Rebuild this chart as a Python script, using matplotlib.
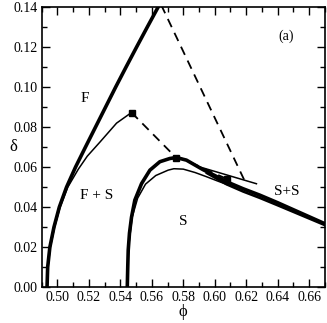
import matplotlib
matplotlib.use("Agg")
import matplotlib.pyplot as plt
from matplotlib.ticker import MultipleLocator, FormatStrFormatter

plt.rcParams['font.family'] = ['Liberation Serif', 'DejaVu Serif']
plt.rcParams['mathtext.fontset'] = 'stix'

# Thick fluid boundary (F)
f_thick_x = [0.4934, 0.4938, 0.4952, 0.4978, 0.5012, 0.5058, 0.5115, 0.5178,
             0.5242, 0.5306, 0.5370, 0.5436, 0.5503, 0.5571, 0.5640, 0.5660]
f_thick_y = [0.00, 0.01, 0.02, 0.03, 0.04, 0.05, 0.06, 0.07,
             0.08, 0.09, 0.10, 0.11, 0.12, 0.13, 0.14, 0.145]

# Thin curve ending at critical point square
f_thin_x = [0.4934, 0.4940, 0.4955, 0.4982, 0.5017, 0.5066, 0.5133, 0.5190, 0.5270, 0.5376, 0.5471]
f_thin_y = [0.000, 0.010, 0.020, 0.030, 0.040, 0.050, 0.0590, 0.0655, 0.0725, 0.0820, 0.0873]

# Thick solid boundary (S)
s_thick_x = [0.5444, 0.5447, 0.5450, 0.5458, 0.5471, 0.5492, 0.5535, 0.5588, 0.5651,
             0.5714, 0.5755, 0.5820, 0.5924, 0.6000, 0.6075, 0.6180, 0.6286, 0.6400,
             0.6497, 0.6600, 0.6700]
s_thick_y = [0.000, 0.010, 0.0185, 0.027, 0.035, 0.0435, 0.0518, 0.0585, 0.0627,
             0.0643, 0.0648, 0.0635, 0.0588, 0.0558, 0.0527, 0.0492, 0.0460, 0.0422,
             0.0388, 0.0352, 0.0317]

# Lower line of the double band
s_lower_x = [0.5950, 0.6075, 0.6180, 0.6286, 0.6400, 0.6497, 0.6600, 0.6700]
s_lower_y = [0.0570, 0.0514, 0.0478, 0.0446, 0.0409, 0.0377, 0.0343, 0.0310]

# Thin inner S curve
s_thin_x = [0.5444, 0.5450, 0.5475, 0.5510, 0.5560, 0.5625, 0.5704, 0.5740, 0.5800,
            0.5875, 0.5948, 0.6020, 0.6075]
s_thin_y = [0.000, 0.0185, 0.035, 0.0445, 0.0515, 0.0558, 0.0585, 0.0592, 0.0590,
            0.0573, 0.0552, 0.0530, 0.0514]

# Thin crossing line
cross_x = [0.5900, 0.6265]
cross_y = [0.0602, 0.0517]

# Dashed tie lines
dash1_x = [0.5471, 0.5755]
dash1_y = [0.0873, 0.0647]
dash2_x = [0.5755, 0.5884, 0.5980, 0.6080]
dash2_y = [0.0655, 0.0610, 0.0575, 0.0540]
dash3_x = [0.5660, 0.6188]
dash3_y = [0.1410, 0.0535]

# Squares
sq_x = [0.5471, 0.5755, 0.6080]
sq_y = [0.0873, 0.0647, 0.0540]

fig = plt.figure(figsize=(3.27, 3.23), dpi=100)
ax = fig.add_axes([0.1275, 0.111, 0.866, 0.867])

ax.plot(f_thick_x, f_thick_y, color='black', lw=2.6, solid_capstyle='butt')
ax.plot(f_thin_x, f_thin_y, color='black', lw=1.1)
ax.plot(s_thick_x, s_thick_y, color='black', lw=2.6, solid_capstyle='butt')
ax.plot(s_lower_x, s_lower_y, color='black', lw=1.8)
ax.plot(s_thin_x, s_thin_y, color='black', lw=1.1)
ax.plot(cross_x, cross_y, color='black', lw=1.1)
ax.plot(dash1_x, dash1_y, color='black', lw=1.3, dashes=(5, 3.5))
ax.plot(dash2_x, dash2_y, color='black', lw=1.3, dashes=(5, 3.5))
ax.plot(dash3_x, dash3_y, color='black', lw=1.3, dashes=(5, 3.5))
ax.plot(sq_x, sq_y, linestyle='none', marker='s', color='black', markersize=4.5)

ax.text(0.5175, 0.0943, 'F', fontsize=11, ha='center', va='center')
ax.text(0.5249, 0.0460, 'F + S', fontsize=11, ha='center', va='center')
ax.text(0.5800, 0.0327, 'S', fontsize=11, ha='center', va='center')
ax.text(0.6456, 0.0477, 'S+S', fontsize=11, ha='center', va='center')
ax.text(0.6456, 0.1255, '(a)', fontsize=10, ha='center', va='center')

ax.set_xlim(0.49, 0.67)
ax.set_ylim(0.0, 0.14)
ax.xaxis.set_major_locator(MultipleLocator(0.02))
ax.xaxis.set_minor_locator(MultipleLocator(0.01))
ax.yaxis.set_major_locator(MultipleLocator(0.02))
ax.yaxis.set_minor_locator(MultipleLocator(0.01))
ax.xaxis.set_major_formatter(FormatStrFormatter('%.2f'))
ax.yaxis.set_major_formatter(FormatStrFormatter('%.2f'))
ax.tick_params(which='both', direction='in', top=True, right=True, labelsize=10, pad=3)
ax.tick_params(which='major', length=6, width=1)
ax.tick_params(which='minor', length=3.5, width=1)
for s in ax.spines.values():
    s.set_linewidth(1.2)

ax.set_xlabel('ϕ', fontsize=12, labelpad=0)
ax.set_ylabel('δ', fontsize=12, rotation=0, va='center', ha='center')
ax.yaxis.set_label_coords(-0.1, 0.5)

fig.savefig('out.png', dpi=100)
